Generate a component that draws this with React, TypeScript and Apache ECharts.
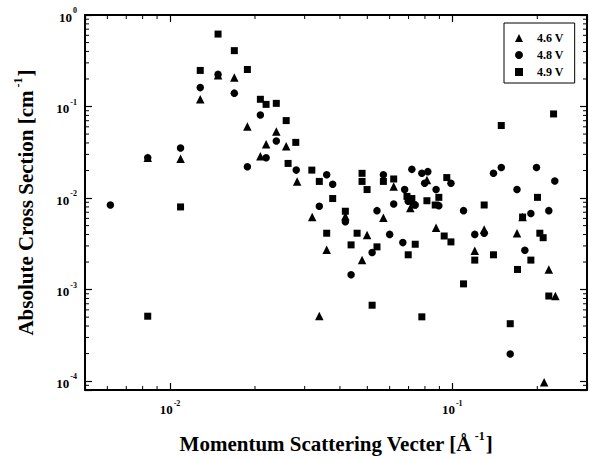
import React, { useEffect, useRef } from 'react';
import * as echarts from 'echarts';

const FONT = '"Liberation Serif", "Times New Roman", Times, serif';

const seriesNames = ['4.6 V', '4.8 V', '4.9 V'];

// 4.6 V (triangles): [q, cross section]
const data46: [number, number][] = [
  [0.00834, 0.0276], [0.0109, 0.0269], [0.0128, 0.12], [0.0148, 0.219], [0.0169, 0.207],
  [0.0188, 0.0605], [0.0209, 0.0287], [0.0219, 0.0386], [0.0238, 0.0534], [0.0258, 0.0368],
  [0.0282, 0.0152], [0.0319, 0.0062], [0.0359, 0.00272], [0.0418, 0.00634], [0.0479, 0.0021],
  [0.0499, 0.00395], [0.057, 0.00608], [0.062, 0.01338], [0.071, 0.0078], [0.0813, 0.01577],
  [0.0876, 0.00474], [0.1201, 0.00265], [0.1297, 0.00454], [0.1695, 0.00413], [0.1774, 0.0062],
  [0.2197, 0.00166], [0.2318, 0.000851], [0.0338, 0.000514], [0.2115, 0.0000975],
];

// 4.8 V (circles)
const data48: [number, number][] = [
  [0.00615, 0.0084], [0.00834, 0.0276], [0.0109, 0.0353], [0.0128, 0.161], [0.0148, 0.2245],
  [0.0169, 0.14], [0.0188, 0.022], [0.0209, 0.0809], [0.0219, 0.0276], [0.0238, 0.0421],
  [0.028, 0.0202], [0.0338, 0.00813], [0.0359, 0.018], [0.0377, 0.01417], [0.0418, 0.0055],
  [0.0438, 0.00145], [0.052, 0.00254], [0.0541, 0.00729], [0.057, 0.018], [0.06, 0.00401],
  [0.062, 0.00861], [0.0668, 0.00326], [0.0678, 0.01239], [0.0698, 0.00921], [0.0719, 0.02058],
  [0.0739, 0.0084], [0.078, 0.01863], [0.0798, 0.01453], [0.0819, 0.01943], [0.0876, 0.01239],
  [0.0896, 0.00826], [0.0989, 0.01453], [0.1096, 0.00729], [0.1201, 0.00401], [0.1297, 0.00413],
  [0.1399, 0.01863], [0.1491, 0.02153], [0.1604, 0.000198], [0.1695, 0.01239], [0.1807, 0.00269],
  [0.1898, 0.00677], [0.1987, 0.02153], [0.2197, 0.00729], [0.2307, 0.01538],
];

// 4.9 V (squares)
const data49: [number, number][] = [
  [0.00834, 0.000512], [0.0109, 0.008], [0.0128, 0.248], [0.0148, 0.619], [0.0169, 0.408],
  [0.0188, 0.254], [0.0209, 0.12], [0.0219, 0.1056], [0.0238, 0.1083], [0.0258, 0.0702],
  [0.0262, 0.0239], [0.0279, 0.0406], [0.0318, 0.0202], [0.0338, 0.0152], [0.0359, 0.00413],
  [0.0377, 0.00988], [0.0418, 0.00718], [0.0438, 0.00308], [0.046, 0.00413], [0.0479, 0.01863],
  [0.0479, 0.0152], [0.0499, 0.01239], [0.052, 0.000675], [0.0541, 0.00293], [0.057, 0.0152],
  [0.062, 0.01616], [0.0691, 0.01043], [0.0698, 0.0024], [0.0719, 0.00988], [0.0729, 0.0084],
  [0.0739, 0.00313], [0.078, 0.000504], [0.0813, 0.00935], [0.087, 0.0084], [0.0896, 0.01018],
  [0.0936, 0.00385], [0.0956, 0.01674], [0.0989, 0.00332], [0.1096, 0.001155], [0.1201, 0.0021],
  [0.1297, 0.0084], [0.1399, 0.0024], [0.1491, 0.062], [0.1604, 0.000424], [0.1702, 0.00166],
  [0.1774, 0.0062], [0.1898, 0.0021], [0.2003, 0.01018], [0.2042, 0.00413], [0.2098, 0.00369],
  [0.2197, 0.000851], [0.2284, 0.083],
];

const xRange = [0.005, 0.3];
const yRange = [8e-5, 1];

const xMinorTicks = [
  0.006, 0.007, 0.008, 0.009,
  0.02, 0.03, 0.04, 0.05, 0.06, 0.07, 0.08, 0.09,
  0.2,
];
const yMinorTicks = [
  9e-5,
  2e-4, 3e-4, 4e-4, 5e-4, 6e-4, 7e-4, 8e-4, 9e-4,
  2e-3, 3e-3, 4e-3, 5e-3, 6e-3, 7e-3, 8e-3, 9e-3,
  2e-2, 3e-2, 4e-2, 5e-2, 6e-2, 7e-2, 8e-2, 9e-2,
  2e-1, 3e-1, 4e-1, 5e-1, 6e-1, 7e-1, 8e-1, 9e-1,
];

const powFormatter = (v: number) => {
  const l = Math.log10(v);
  const e = Math.round(l);
  if (Math.abs(l - e) > 1e-6) return '';
  return `{b|10}{s|${e}}`;
};

const labelRich = {
  b: { fontFamily: FONT, fontWeight: 'bold', fontSize: 13, color: '#000', lineHeight: 17, verticalAlign: 'bottom' },
  s: { fontFamily: FONT, fontWeight: 'bold', fontSize: 8, color: '#000', lineHeight: 9, verticalAlign: 'top', padding: [0, 0, 0, 1] },
};

const nameRich = {
  t: { fontFamily: FONT, fontWeight: 'bold', fontSize: 21, color: '#000', lineHeight: 24, verticalAlign: 'bottom' },
  s: { fontFamily: FONT, fontWeight: 'bold', fontSize: 12, color: '#000', lineHeight: 12, verticalAlign: 'top', padding: [0, 1, 0, 3] },
};

const axisLine = { show: true, onZero: false, lineStyle: { color: '#000', width: 2 } };
const majorTick = { show: true, inside: true, length: 7, lineStyle: { color: '#000', width: 1.2 } };

export default function App() {
  const ref = useRef<HTMLDivElement>(null);
  useEffect(() => {
    if (!ref.current) return;
    const chart = echarts.init(ref.current, undefined, { renderer: 'svg' });

    const minorX = {
      type: 'custom',
      name: 'xminor',
      silent: true,
      z: 5,
      data: xMinorTicks.map((v) => [v, yRange[0]]),
      renderItem: (_p: any, api: any) => {
        const v = api.value(0);
        const b = api.coord([v, yRange[0]]);
        const t = api.coord([v, yRange[1]]);
        return {
          type: 'group',
          children: [
            { type: 'line', shape: { x1: b[0], y1: b[1], x2: b[0], y2: b[1] - 4 }, style: { stroke: '#000', lineWidth: 1 } },
            { type: 'line', shape: { x1: t[0], y1: t[1], x2: t[0], y2: t[1] + 4 }, style: { stroke: '#000', lineWidth: 1 } },
          ],
        };
      },
    };
    const minorY = {
      type: 'custom',
      name: 'yminor',
      silent: true,
      z: 5,
      data: yMinorTicks.map((v) => [xRange[0], v]),
      renderItem: (_p: any, api: any) => {
        const v = api.value(1);
        const l = api.coord([xRange[0], v]);
        const r = api.coord([xRange[1], v]);
        return {
          type: 'group',
          children: [
            { type: 'line', shape: { x1: l[0], y1: l[1], x2: l[0] + 4, y2: l[1] }, style: { stroke: '#000', lineWidth: 1 } },
            { type: 'line', shape: { x1: r[0], y1: r[1], x2: r[0] - 4, y2: r[1] }, style: { stroke: '#000', lineWidth: 1 } },
          ],
        };
      },
    };

    const scatterBase = (name: string, data: [number, number][], symbol: string, size: number) => ({
      type: 'scatter',
      name,
      data,
      symbol,
      symbolSize: size,
      itemStyle: { color: '#000', opacity: 1 },
      xAxisIndex: 0,
      yAxisIndex: 0,
      z: 3,
    });

    chart.setOption({
      animation: false,
      backgroundColor: '#fff',
      grid: { left: 85, right: 2, top: 15, bottom: 66, containLabel: false },
      legend: {
        data: [
          { name: seriesNames[0], icon: 'triangle' },
          { name: seriesNames[1], icon: 'circle' },
          { name: seriesNames[2], icon: 'rect' },
        ],
        orient: 'vertical',
        left: 504,
        top: 23,
        padding: [9, 11, 5, 11],
        itemWidth: 8,
        itemHeight: 8,
        itemGap: 5,
        borderColor: '#000',
        borderWidth: 1,
        backgroundColor: '#fff',
        selectedMode: false,
        textStyle: { fontFamily: FONT, fontWeight: 'bold', fontSize: 12, color: '#000', lineHeight: 12, padding: [0, 0, 0, 9] },
      },
      xAxis: [
        {
          type: 'log',
          logBase: 10,
          min: xRange[0],
          max: xRange[1],
          position: 'bottom',
          axisLine,
          axisTick: majorTick,
          splitLine: { show: false },
          axisLabel: { formatter: powFormatter, rich: labelRich, margin: 9 },
          name: '{t|Momentum Scattering Vecter [Å}{s|-1}{t|]}',
          nameLocation: 'middle',
          nameGap: 40,
          nameTextStyle: { rich: nameRich, verticalAlign: 'top' },
        },
        {
          type: 'log',
          logBase: 10,
          min: xRange[0],
          max: xRange[1],
          position: 'top',
          axisLine,
          axisTick: majorTick,
          splitLine: { show: false },
          axisLabel: { show: false },
        },
      ],
      yAxis: [
        {
          type: 'log',
          logBase: 10,
          min: yRange[0],
          max: yRange[1],
          position: 'left',
          axisLine,
          axisTick: majorTick,
          splitLine: { show: false },
          axisLabel: { formatter: powFormatter, rich: labelRich, margin: 8 },
          name: '{t|Absolute Cross Section [cm}{s|-1}{t|]}',
          nameLocation: 'middle',
          nameRotate: 90,
          nameGap: 49,
          nameTextStyle: { rich: nameRich },
        },
        {
          type: 'log',
          logBase: 10,
          min: yRange[0],
          max: yRange[1],
          position: 'right',
          axisLine,
          axisTick: majorTick,
          splitLine: { show: false },
          axisLabel: { show: false },
        },
      ],
      series: [
        scatterBase(seriesNames[0], data46, 'triangle', 8.5),
        scatterBase(seriesNames[1], data48, 'circle', 7.5),
        scatterBase(seriesNames[2], data49, 'rect', 7),
        minorX,
        minorY,
      ],
    });
    return () => chart.dispose();
  }, []);
  return <div ref={ref} style={{ position: 'fixed', left: 0, top: 0, width: 590, height: 459, background: '#fff' }} />;
}
